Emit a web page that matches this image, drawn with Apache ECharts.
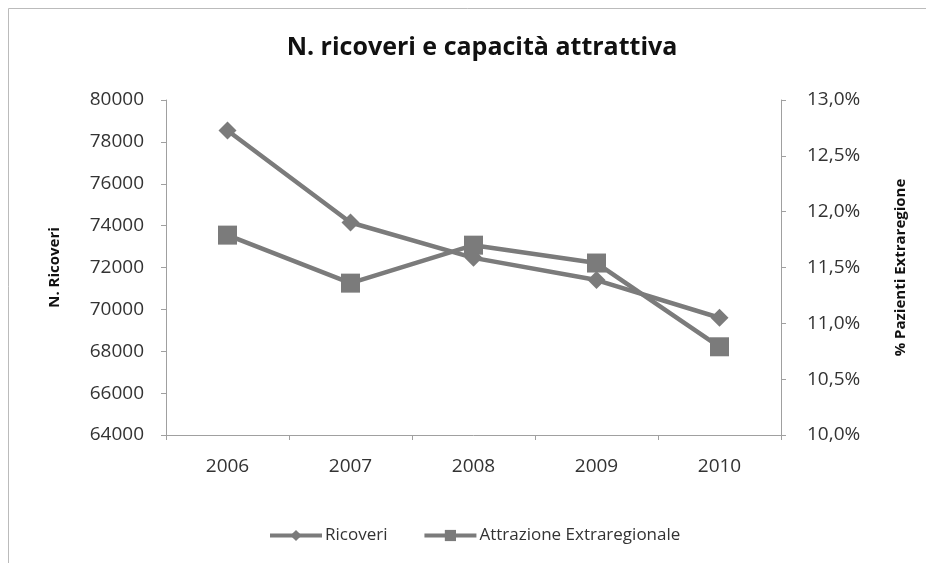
<!DOCTYPE html>
<html>
<head>
<meta charset="utf-8">
<script src="https://cdn.jsdelivr.net/npm/echarts@6/dist/echarts.min.js"></script>
<style>
  html, body { margin: 0; padding: 0; background: #fff; }
  #chart { width: 926px; height: 563px; }
</style>
</head>
<body>
<div id="chart"></div>
<script>
const years = ['2006', '2007', '2008', '2009', '2010']
const ricoveri = [78540, 74150, 72460, 71400, 69600]
const attrazione = [11.79, 11.36, 11.70, 11.54, 10.79]

const FONT = 'Open Sans'
const grey = '#7b7b7b'
const axisGrey = '#a0a0a0'

const chart = echarts.init(document.getElementById('chart'))

chart.setOption({
  animation: false,
  textStyle: { fontFamily: FONT },
  title: {
    text: 'N. ricoveri e capacità attrattiva',
    left: 477,
    textAlign: 'center',
    top: 30,
    textStyle: { fontSize: 25, fontWeight: 'bold', color: '#111', fontFamily: FONT }
  },
  graphic: [{
    type: 'rect',
    shape: { x: 8.5, y: 8.5, width: 940, height: 600 },
    style: { fill: 'none', stroke: '#bbb', lineWidth: 1 },
    silent: true
  }],
  legend: {
    top: 522,
    left: 263,
    itemWidth: 52,
    itemHeight: 14,
    itemGap: 35,
    lineStyle: { width: 4 },
    textStyle: { fontSize: 17, color: '#333', fontFamily: FONT, padding: [0, 0, 0, -2] },
    data: ['Ricoveri', 'Attrazione Extraregionale']
  },
  grid: { left: 166, right: 145, top: 100, bottom: 128 },
  xAxis: {
    type: 'category',
    data: years,
    boundaryGap: true,
    axisLine: { lineStyle: { color: axisGrey, width: 1 } },
    axisTick: { show: true, length: 5, lineStyle: { color: axisGrey } },
    axisLabel: { fontSize: 19, color: '#333', margin: 22, fontFamily: FONT }
  },
  yAxis: [{
    type: 'value',
    min: 64000,
    max: 80000,
    interval: 2000,
    name: 'N. Ricoveri',
    nameLocation: 'middle',
    nameGap: 104,
    nameRotate: 90,
    nameTextStyle: { fontSize: 15, fontWeight: 'bold', color: '#111', fontFamily: FONT },
    axisLine: { show: true, lineStyle: { color: axisGrey } },
    axisTick: { show: true, length: 5, lineStyle: { color: axisGrey } },
    splitLine: { show: false },
    axisLabel: { fontSize: 19, color: '#333', margin: 22, fontFamily: FONT, formatter: v => String(v) }
  }, {
    type: 'value',
    min: 10,
    max: 13,
    interval: 0.5,
    position: 'right',
    name: '% Pazienti Extraregione',
    nameLocation: 'middle',
    nameGap: 112,
    nameRotate: 90,
    nameTextStyle: { fontSize: 15, fontWeight: 'bold', color: '#111', fontFamily: FONT },
    axisLine: { show: true, lineStyle: { color: axisGrey } },
    axisTick: { show: true, length: 5, lineStyle: { color: axisGrey } },
    splitLine: { show: false },
    axisLabel: {
      fontSize: 19, color: '#333', margin: 26, fontFamily: FONT,
      formatter: v => v.toFixed(1).replace('.', ',') + '%'
    }
  }],
  series: [{
    name: 'Ricoveri',
    type: 'line',
    yAxisIndex: 0,
    data: ricoveri,
    symbol: 'diamond',
    symbolSize: 18,
    lineStyle: { color: grey, width: 4.5 },
    itemStyle: { color: grey },
    z: 2
  }, {
    name: 'Attrazione Extraregionale',
    type: 'line',
    yAxisIndex: 1,
    data: attrazione,
    symbol: 'rect',
    symbolSize: 19,
    lineStyle: { color: grey, width: 4.5 },
    itemStyle: { color: grey },
    z: 3
  }]
})
</script>
</body>
</html>
